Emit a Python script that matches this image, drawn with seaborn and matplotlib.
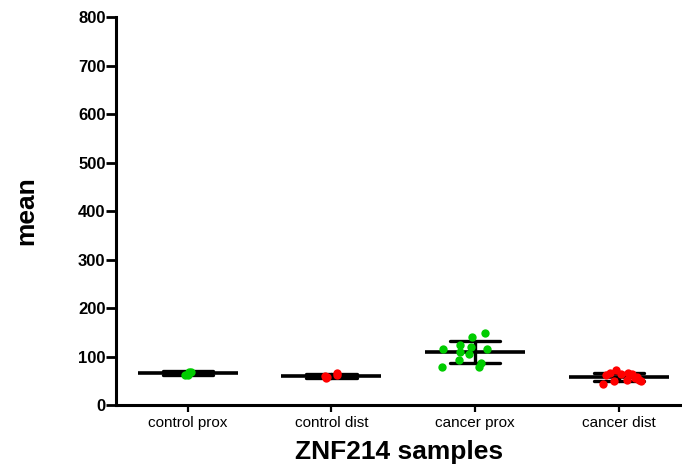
import matplotlib
matplotlib.use("Agg")
import matplotlib.pyplot as plt
import seaborn as sns
import pandas as pd
import numpy as np

categories = ["control prox", "control dist", "cancer prox", "cancer dist"]
control_prox = [69, 68, 62, 61]
control_dist = [65, 62, 55, 57, 60]
cancer_prox = [120, 115, 140, 148, 124, 115, 86, 78, 79, 93, 105, 110]
cancer_dist = [67, 72, 43, 64, 63, 65, 62, 50, 51, 49, 52, 58, 55]
colors = ["#00cc00", "#ff0000", "#00cc00", "#ff0000"]
yticks = [0, 100, 200, 300, 400, 500, 600, 700, 800]

rows = []
for cat, vals in zip(categories, [control_prox, control_dist, cancer_prox, cancer_dist]):
    for v in vals:
        rows.append({"group": cat, "value": v})
df = pd.DataFrame(rows)

sns.set_style("white")
plt.rcParams["font.family"] = ["Liberation Sans", "DejaVu Sans"]
plt.rcParams["text.color"] = "black"
plt.rcParams["axes.labelcolor"] = "black"
plt.rcParams["xtick.color"] = "black"
plt.rcParams["ytick.color"] = "black"

fig = plt.figure(figsize=(6.82, 4.73), dpi=100)
ax = fig.add_axes([116 / 682, 68 / 473, 1 - 116 / 682, (405 - 17) / 473])

sns.pointplot(data=df, x="group", y="value", order=categories, errorbar="sd",
              capsize=0.35, markers="_", markersize=72, markeredgewidth=2.6,
              linestyle="none", color="black", err_kws={"linewidth": 2.4}, ax=ax)

# horizontal spread of the dots (layout only)
spreads = [0.05, 0.05, 0.24, 0.16]
np.random.seed(3)
for cat, col, jit in zip(categories, colors, spreads):
    sub = df[df["group"] == cat]
    sns.stripplot(data=sub, x="group", y="value", order=categories, color=col,
                  jitter=jit, size=6, ax=ax, zorder=5)

ax.set_ylim(0, 800)
ax.set_xlim(-0.5, 3.44)
ax.set_yticks(yticks)
ax.set_yticklabels([str(t) for t in yticks], fontweight="bold", fontsize=12)
ax.set_xticks(range(len(categories)))
ax.set_xticklabels(categories, fontsize=11)
ax.tick_params(axis="y", direction="out", length=7, width=2, pad=0.5, left=True)
ax.tick_params(axis="x", direction="out", length=5, width=1.6, pad=3, bottom=True)
for s in ["top", "right"]:
    ax.spines[s].set_visible(False)
for s in ["left", "bottom"]:
    ax.spines[s].set_linewidth(2.2)
    ax.spines[s].set_color("black")
ax.set_ylabel("mean", fontsize=19, fontweight="bold", labelpad=29)
ax.set_xlabel("ZNF214 samples", fontsize=19, fontweight="bold", labelpad=7)

fig.savefig("out.png", dpi=100)
